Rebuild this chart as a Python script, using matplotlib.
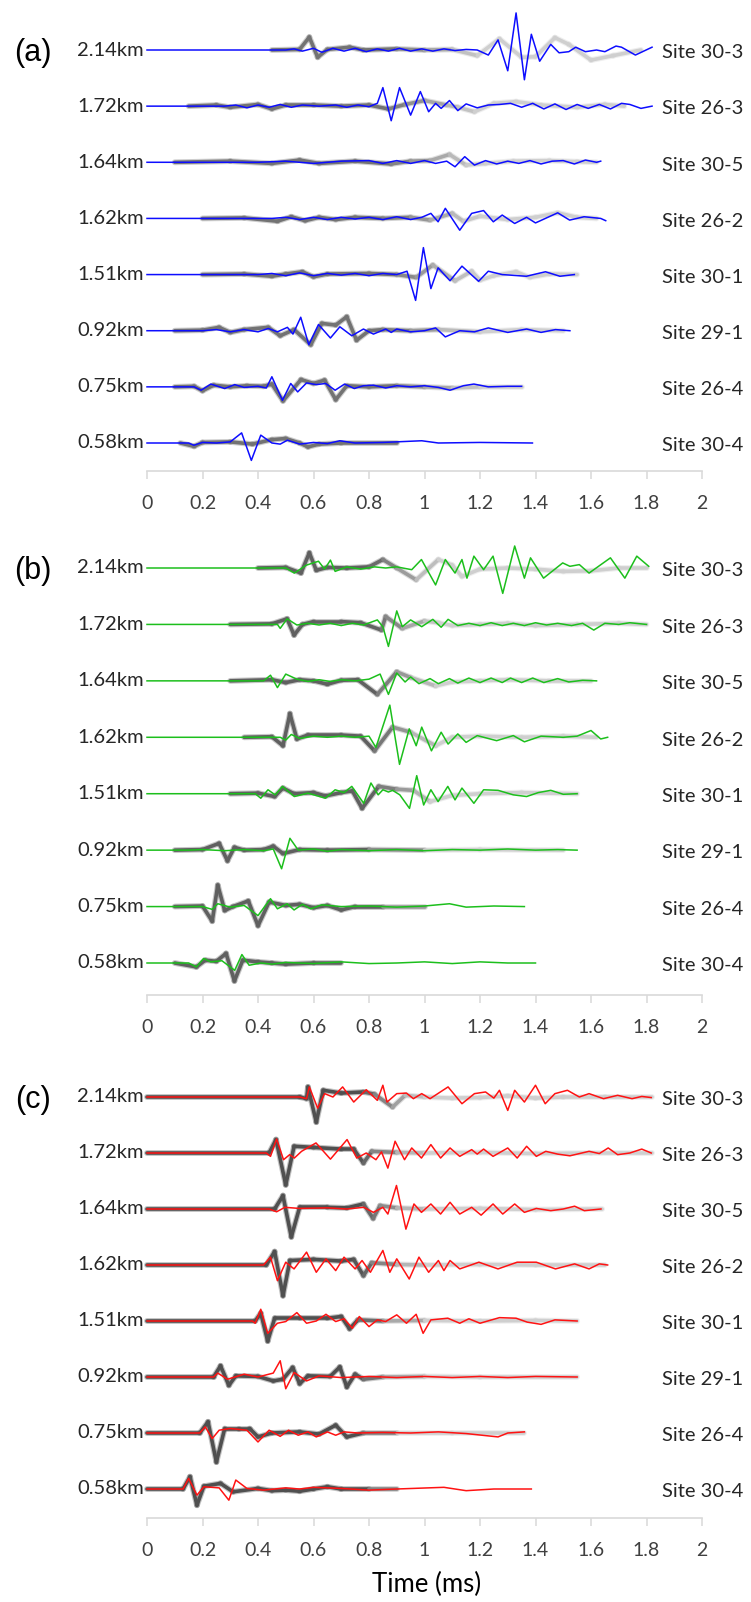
import matplotlib.pyplot as plt
import numpy as np
from matplotlib.collections import LineCollection
from matplotlib.colors import to_rgb

distances = ['2.14km', '1.72km', '1.64km', '1.62km', '1.51km', '0.92km', '0.75km', '0.58km']
sites = ['Site 30-3', 'Site 26-3', 'Site 30-5', 'Site 26-2', 'Site 30-1', 'Site 29-1', 'Site 26-4', 'Site 30-4']
xticks = [0, 0.2, 0.4, 0.6, 0.8, 1, 1.2, 1.4, 1.6, 1.8, 2]

# traces: (time ms, amplitude) pairs, one list per site, top row first
a_blue = [
    [(0,0),(0.50,0),(0.53,0.02),(0.56,-0.02),(0.60,0.03),(0.63,-0.04),(0.67,0.03),(0.71,-0.02),(0.75,0.03),(0.79,-0.03),(0.83,0.02),(0.87,-0.02),(0.91,0.03),(0.95,-0.02),(0.99,0.02),(1.03,-0.02),(1.07,0.02),(1.11,-0.01),(1.15,0.01),(1.19,0),(1.23,-0.09),(1.265,0.18),(1.30,-0.37),(1.33,0.66),(1.36,-0.53),(1.385,0.28),(1.415,-0.2),(1.455,0.1),(1.485,-0.05),(1.52,-0.03),(1.545,0.05),(1.58,-0.03),(1.62,0.0),(1.65,-0.03),(1.69,0.07),(1.71,0.05),(1.76,-0.09),(1.82,0.05)],
    [(0,0),(0.28,0),(0.32,0.02),(0.36,-0.03),(0.40,0.02),(0.44,-0.02),(0.48,0.03),(0.52,-0.02),(0.56,0.02),(0.62,0.0),(0.68,0.02),(0.72,-0.02),(0.76,0.02),(0.80,-0.01),(0.83,0.05),(0.85,0.33),(0.88,-0.26),(0.91,0.33),(0.95,-0.16),(0.985,0.26),(1.015,-0.1),(1.04,0.05),(1.06,-0.04),(1.09,0.1),(1.12,-0.08),(1.15,0.04),(1.19,-0.03),(1.23,0.02),(1.27,0.03),(1.31,0.05),(1.35,-0.02),(1.39,0.05),(1.43,-0.05),(1.47,0.04),(1.51,-0.06),(1.55,0.03),(1.59,-0.04),(1.63,0.03),(1.67,-0.05),(1.71,0.05),(1.74,0.03),(1.78,-0.04),(1.82,0.0)],
    [(0,0),(0.40,0),(0.5,0.02),(0.6,-0.02),(0.7,0.02),(0.8,0.03),(0.85,-0.02),(0.9,0.03),(0.95,-0.02),(1.0,0.03),(1.04,-0.02),(1.08,0.02),(1.11,-0.08),(1.145,0.10),(1.18,-0.05),(1.22,0.03),(1.26,-0.03),(1.3,0.02),(1.34,-0.02),(1.38,0.03),(1.42,-0.03),(1.46,0.02),(1.50,0.03),(1.54,-0.03),(1.58,0.04),(1.62,0.0),(1.635,0.02)],
    [(0,0),(0.45,0),(0.5,0.02),(0.55,-0.02),(0.6,0.02),(0.65,-0.02),(0.7,0.02),(0.75,-0.01),(0.8,0.02),(0.85,-0.02),(0.9,0.03),(0.95,-0.02),(0.99,0.02),(1.023,0.09),(1.049,-0.06),(1.075,0.18),(1.127,-0.21),(1.17,0.09),(1.213,0.14),(1.248,-0.06),(1.28,0.06),(1.325,-0.09),(1.368,0.02),(1.40,-0.08),(1.48,0.1),(1.523,-0.03),(1.575,0.03),(1.635,0.0),(1.653,-0.04)],
    [(0,0),(0.4,0),(0.45,0.02),(0.5,-0.02),(0.55,0.03),(0.6,-0.02),(0.65,0.02),(0.7,-0.01),(0.75,0.02),(0.8,-0.02),(0.85,0.02),(0.9,0.0),(0.937,0.06),(0.968,-0.46),(0.996,0.48),(1.023,-0.25),(1.049,0.12),(1.092,-0.11),(1.135,0.15),(1.195,-0.12),(1.23,0.06),(1.28,0.0),(1.367,-0.03),(1.436,0.05),(1.488,-0.03),(1.54,0.0)],
    [(0,0),(0.2,0),(0.25,0.02),(0.3,-0.02),(0.35,0.02),(0.4,-0.02),(0.437,0.04),(0.47,-0.02),(0.506,0.06),(0.526,-0.06),(0.554,0.24),(0.583,-0.25),(0.618,0.11),(0.661,-0.13),(0.695,0.07),(0.738,-0.09),(0.78,0.03),(0.816,-0.06),(0.86,0.03),(0.88,-0.03),(0.9,0.03),(0.95,-0.02),(1.0,0.0),(1.04,0.05),(1.075,-0.11),(1.127,0.0),(1.18,-0.02),(1.23,0.05),(1.3,-0.03),(1.368,0.03),(1.42,-0.03),(1.472,0.02),(1.524,0.0)],
    [(0,0),(0.17,0),(0.195,-0.06),(0.23,0.05),(0.28,-0.03),(0.316,0.04),(0.35,-0.01),(0.4,0.01),(0.43,-0.02),(0.45,0.18),(0.488,-0.24),(0.518,0.06),(0.543,-0.09),(0.575,0.07),(0.61,0.04),(0.644,0.06),(0.678,-0.06),(0.712,0.05),(0.747,-0.03),(0.78,0.02),(0.816,0.03),(0.86,-0.02),(0.9,0.02),(0.95,0.0),(1.0,0.02),(1.05,-0.01),(1.092,-0.06),(1.14,0.02),(1.178,0.05),(1.23,0.0),(1.3,0.01),(1.35,0.01)],
    [(0,0),(0.15,0),(0.169,-0.04),(0.2,0.01),(0.25,0.0),(0.3,0.02),(0.341,0.18),(0.376,-0.31),(0.41,0.14),(0.45,0.0),(0.48,-0.02),(0.506,0.05),(0.55,-0.02),(0.6,0.01),(0.65,-0.01),(0.695,0.04),(0.75,0.0),(0.85,0.01),(0.99,0.04),(1.05,0.0),(1.2,0.01),(1.389,0.0)],
]
a_gray = [
    [(0.45,0),(0.55,0.01),(0.585,0.23),(0.615,-0.13),(0.65,0.01),(0.73,0.05),(0.78,0),(0.9,0.02),(1.0,0),(1.1,0.01),(1.19,-0.1),(1.27,0.2),(1.35,-0.13),(1.40,-0.12),(1.47,0.22),(1.52,0.1),(1.60,-0.18),(1.68,-0.1),(1.78,0)],
    [(0.15,0),(0.25,0.02),(0.3,-0.02),(0.4,0.03),(0.45,-0.05),(0.5,0.02),(0.6,0.02),(0.7,0),(0.8,0.02),(0.87,-0.05),(0.93,0.03),(1.0,0.1),(1.08,0.02),(1.12,-0.02),(1.18,-0.1),(1.25,0.05),(1.33,0.08),(1.42,0.02),(1.55,-0.02),(1.65,0.03),(1.72,0)],
    [(0.1,0),(0.3,0.02),(0.45,-0.02),(0.55,0.04),(0.62,-0.02),(0.75,0.02),(0.88,-0.03),(0.95,0.02),(1.02,0.03),(1.09,0.14),(1.15,-0.05),(1.22,-0.02),(1.32,0.02),(1.45,0.03),(1.55,0.01),(1.62,0)],
    [(0.2,0),(0.35,0.01),(0.47,-0.05),(0.52,0.03),(0.57,-0.04),(0.62,0.02),(0.68,-0.02),(0.75,0.02),(0.85,0),(0.95,0.02),(1.02,-0.03),(1.1,0.09),(1.14,-0.05),(1.2,0.04),(1.3,-0.02),(1.4,0.02),(1.48,0.1),(1.55,0.02),(1.62,0)],
    [(0.2,0),(0.35,0.01),(0.45,-0.03),(0.5,0.01),(0.56,0.05),(0.6,-0.04),(0.65,0.01),(0.8,0.02),(0.9,0),(0.97,-0.05),(1.03,0.17),(1.11,-0.11),(1.17,0.06),(1.2,-0.1),(1.25,-0.02),(1.33,0.05),(1.38,-0.05),(1.45,0.01),(1.55,0)],
    [(0.1,0),(0.2,0.01),(0.26,0.06),(0.3,-0.03),(0.35,0.02),(0.437,0.06),(0.48,-0.09),(0.53,0.02),(0.59,-0.25),(0.63,0.13),(0.68,0.1),(0.72,0.25),(0.755,-0.17),(0.8,0.0),(0.85,0.02),(0.95,0.0),(1.05,0.02),(1.2,-0.02),(1.35,0.02),(1.5,0)],
    [(0.1,0),(0.17,0.01),(0.2,-0.07),(0.24,0.03),(0.3,0.0),(0.36,0.02),(0.42,0.01),(0.45,0.05),(0.49,-0.25),(0.555,0.13),(0.6,0.06),(0.64,0.12),(0.68,-0.23),(0.72,0.02),(0.8,0.0),(0.9,0.02),(1.0,0.0),(1.1,-0.02),(1.2,0.0),(1.35,0)],
    [(0.12,0),(0.17,-0.06),(0.2,0.01),(0.3,0.02),(0.38,-0.02),(0.45,0.06),(0.5,0.08),(0.55,0.0),(0.58,-0.07),(0.62,-0.02),(0.7,0.0),(0.9,0.0)],
]

b_green = [
    [(0,0),(0.5,0),(0.531,-0.09),(0.574,0.05),(0.618,0.12),(0.64,-0.02),(0.661,0.14),(0.678,-0.06),(0.72,0.02),(0.77,-0.02),(0.82,0.02),(0.86,0.0),(0.9,0.02),(0.954,-0.03),(0.989,0.15),(1.04,-0.3),(1.075,0.15),(1.11,-0.09),(1.135,0.15),(1.153,-0.18),(1.178,0.21),(1.213,-0.03),(1.247,0.21),(1.282,-0.45),(1.325,0.39),(1.36,-0.18),(1.382,0.18),(1.429,-0.18),(1.498,0.09),(1.524,0.03),(1.558,0.06),(1.593,-0.09),(1.67,0.18),(1.722,-0.18),(1.765,0.21),(1.808,0.03)],
    [(0,0),(0.47,0),(0.48,-0.07),(0.505,0.1),(0.54,-0.01),(0.58,0.02),(0.62,-0.01),(0.66,0.02),(0.7,-0.02),(0.74,0.02),(0.78,-0.01),(0.83,0.08),(0.85,-0.04),(0.87,-0.39),(0.9,0.24),(0.92,-0.04),(0.95,0.08),(0.99,-0.04),(1.03,0.09),(1.06,-0.05),(1.085,0.09),(1.12,-0.02),(1.16,0.02),(1.2,-0.02),(1.24,0.03),(1.28,-0.02),(1.32,0.02),(1.36,-0.02),(1.4,0.03),(1.44,-0.01),(1.48,0.02),(1.53,-0.02),(1.57,0.02),(1.61,-0.1),(1.65,0.02),(1.7,0.0),(1.74,0.03),(1.8,0.0)],
    [(0,0),(0.42,0),(0.445,0.1),(0.47,-0.12),(0.5,0.12),(0.54,0.03),(0.58,-0.01),(0.62,0.02),(0.66,-0.01),(0.7,0.02),(0.75,0.0),(0.8,0.03),(0.84,0.12),(0.87,-0.24),(0.9,0.14),(0.93,-0.02),(0.95,0.07),(0.98,-0.05),(1.02,0.04),(1.05,-0.05),(1.09,0.04),(1.12,-0.04),(1.16,0.05),(1.2,-0.03),(1.24,0.05),(1.28,-0.03),(1.31,0.05),(1.35,-0.03),(1.39,0.05),(1.43,-0.03),(1.48,0.04),(1.52,-0.02),(1.57,0.01),(1.62,0.0)],
    [(0,0),(0.48,0),(0.5,-0.05),(0.52,0.05),(0.55,-0.02),(0.6,0.02),(0.65,0.0),(0.7,0.02),(0.75,0.0),(0.8,0.02),(0.825,-0.18),(0.875,0.57),(0.91,-0.48),(0.945,0.15),(0.97,-0.15),(0.99,0.18),(1.025,-0.24),(1.06,0.09),(1.085,-0.12),(1.12,0.06),(1.15,-0.09),(1.19,0.03),(1.26,-0.06),(1.32,0.03),(1.36,-0.08),(1.42,0.02),(1.5,0.0),(1.55,0.02),(1.6,0.12),(1.635,-0.03),(1.66,0.0)],
    [(0,0),(0.39,0),(0.41,-0.08),(0.436,0.07),(0.462,-0.02),(0.488,0.13),(0.531,-0.05),(0.58,0.01),(0.643,-0.08),(0.678,0.07),(0.71,0.02),(0.738,0.13),(0.781,-0.17),(0.807,0.19),(0.833,-0.02),(0.85,0.07),(0.87,0.03),(0.885,0.06),(0.911,-0.02),(0.946,-0.26),(0.972,0.32),(0.997,-0.2),(1.023,0.07),(1.049,-0.14),(1.084,0.13),(1.11,-0.11),(1.135,0.1),(1.178,-0.17),(1.213,0.07),(1.265,0.06),(1.32,-0.02),(1.368,-0.05),(1.41,0.02),(1.455,0.06),(1.5,-0.01),(1.55,0.0)],
    [(0,0),(0.15,0),(0.2,0.01),(0.28,-0.01),(0.35,0.01),(0.42,-0.01),(0.455,0.02),(0.485,-0.33),(0.515,0.21),(0.545,0.0),(0.6,0.02),(0.65,-0.02),(0.7,0.01),(0.8,-0.01),(0.9,0.01),(1.0,-0.01),(1.1,0.01),(1.2,0.0),(1.3,0.02),(1.4,0.0),(1.48,0.01),(1.55,0.0)],
    [(0,0),(0.2,0),(0.235,-0.05),(0.255,0.05),(0.3,-0.01),(0.35,0.02),(0.4,-0.16),(0.445,0.14),(0.47,-0.04),(0.505,0.05),(0.53,-0.06),(0.56,0.04),(0.59,-0.04),(0.63,0.03),(0.7,0.0),(0.8,0.01),(0.9,-0.01),(1.0,0.01),(1.09,0.05),(1.15,-0.01),(1.25,0.01),(1.36,0.0)],
    [(0,0),(0.15,0),(0.178,-0.07),(0.204,0.08),(0.23,0.02),(0.27,0.04),(0.316,-0.13),(0.342,0.15),(0.368,-0.04),(0.41,0.0),(0.45,-0.02),(0.5,0.01),(0.6,-0.01),(0.7,0.02),(0.8,-0.01),(0.9,0.0),(1.0,0.02),(1.1,-0.01),(1.2,0.02),(1.3,0.0),(1.4,0.0)],
]
b_gray = [
    [(0.4,0),(0.5,0.01),(0.555,-0.09),(0.585,0.27),(0.61,-0.04),(0.65,0.01),(0.72,0.0),(0.8,0.02),(0.85,0.15),(0.9,0.0),(0.97,-0.21),(1.05,0.15),(1.1,0.05),(1.135,-0.15),(1.2,-0.02),(1.3,0.0),(1.4,-0.02),(1.5,-0.06),(1.6,-0.05),(1.7,0.0),(1.8,0.0)],
    [(0.3,0),(0.45,0.01),(0.505,0.1),(0.53,-0.19),(0.56,0.0),(0.6,0.05),(0.7,0.05),(0.77,0.03),(0.845,-0.1),(0.86,0.14),(0.92,-0.07),(1.0,0.06),(1.05,0.03),(1.1,-0.02),(1.2,0.0),(1.3,0.02),(1.4,-0.02),(1.55,0.0),(1.7,0.02),(1.8,0.0)],
    [(0.3,0),(0.45,0.02),(0.5,-0.03),(0.55,0.02),(0.6,0.0),(0.65,-0.06),(0.7,0.01),(0.76,0.02),(0.83,-0.24),(0.9,0.16),(0.95,0.06),(1.04,-0.09),(1.1,-0.02),(1.2,0.0),(1.3,0.02),(1.45,0.0),(1.6,0.0)],
    [(0.35,0),(0.45,0.01),(0.49,-0.15),(0.515,0.42),(0.54,-0.03),(0.58,0.04),(0.7,0.04),(0.77,0.02),(0.82,-0.24),(0.885,0.18),(0.95,0.09),(1.04,-0.15),(1.1,0.0),(1.2,0.02),(1.35,0.0),(1.5,0.02),(1.62,0.0)],
    [(0.3,0),(0.4,0.01),(0.46,-0.05),(0.49,0.1),(0.53,0.0),(0.6,0.02),(0.643,-0.04),(0.7,0.02),(0.74,0.05),(0.775,-0.26),(0.835,0.13),(0.9,0.08),(0.96,0.06),(1.02,-0.14),(1.1,-0.03),(1.2,0.0),(1.35,0.02),(1.55,0.0)],
    [(0.1,0),(0.2,0.01),(0.26,0.12),(0.29,-0.19),(0.315,0.05),(0.35,0.0),(0.42,0.01),(0.455,0.07),(0.49,-0.06),(0.55,0.01),(0.65,0.0),(0.8,0.01),(1.0,0.0),(1.2,0.01),(1.5,0.0)],
    [(0.1,0),(0.2,0.01),(0.235,-0.26),(0.255,0.38),(0.28,-0.07),(0.31,0.0),(0.365,0.1),(0.4,-0.34),(0.44,0.08),(0.5,0.02),(0.55,0.04),(0.6,-0.02),(0.65,0.02),(0.7,-0.06),(0.75,0.0),(0.85,0.0),(1.0,0.0)],
    [(0.1,0),(0.178,-0.07),(0.21,0.05),(0.25,0.03),(0.285,0.17),(0.315,-0.32),(0.345,0.05),(0.4,0.02),(0.45,0.0),(0.5,-0.02),(0.6,0.0),(0.7,0.0)],
]

c_red = [
    [(0,0),(0.55,0),(0.575,-0.03),(0.585,0.18),(0.615,-0.2),(0.64,0.06),(0.67,0.0),(0.705,0.18),(0.745,-0.09),(0.79,0.13),(0.83,-0.06),(0.85,0.21),(0.865,-0.09),(0.9,0.06),(0.935,0.07),(0.96,-0.03),(0.99,0.06),(1.02,-0.03),(1.085,0.18),(1.135,-0.12),(1.18,0.06),(1.22,0.09),(1.25,-0.02),(1.27,0.12),(1.3,-0.24),(1.325,0.12),(1.36,-0.09),(1.4,0.21),(1.435,-0.12),(1.47,0.06),(1.515,0.12),(1.558,0.0),(1.593,0.06),(1.645,-0.03),(1.696,0.03),(1.748,-0.03),(1.783,0.01),(1.817,-0.01)],
    [(0,0),(0.43,0),(0.445,-0.06),(0.467,0.25),(0.492,-0.12),(0.514,-0.03),(0.531,-0.09),(0.557,0.03),(0.609,0.18),(0.661,-0.11),(0.721,0.24),(0.756,-0.09),(0.79,0.0),(0.825,-0.12),(0.845,0.02),(0.868,-0.27),(0.894,0.21),(0.928,-0.12),(0.954,0.09),(0.989,-0.09),(1.023,0.15),(1.058,-0.09),(1.092,0.09),(1.127,-0.06),(1.17,0.06),(1.19,-0.02),(1.213,0.07),(1.247,-0.06),(1.3,0.09),(1.334,-0.09),(1.368,0.12),(1.403,-0.06),(1.437,0.03),(1.48,-0.02),(1.524,-0.05),(1.593,0.03),(1.63,-0.01),(1.662,0.09),(1.696,-0.03),(1.74,0.0),(1.783,0.07),(1.817,0.0)],
    [(0,0),(0.44,0),(0.467,-0.05),(0.497,0.03),(0.55,0.01),(0.65,0.02),(0.72,0.0),(0.781,0.03),(0.816,-0.06),(0.85,0.03),(0.868,-0.09),(0.899,0.42),(0.933,-0.36),(0.962,0.09),(0.989,-0.06),(1.023,0.09),(1.058,-0.09),(1.092,0.12),(1.127,-0.09),(1.17,0.03),(1.204,-0.11),(1.247,0.09),(1.282,-0.09),(1.325,0.09),(1.36,-0.06),(1.403,0.01),(1.455,-0.03),(1.5,0.0),(1.541,0.05),(1.576,-0.03),(1.636,0.0)],
    [(0,0),(0.42,0),(0.445,0.14),(0.47,-0.28),(0.5,0.05),(0.53,-0.07),(0.575,0.23),(0.61,-0.13),(0.645,0.11),(0.68,-0.1),(0.71,0.14),(0.75,-0.07),(0.775,0.08),(0.805,-0.13),(0.85,0.26),(0.875,-0.13),(0.9,0.11),(0.945,-0.25),(0.98,0.14),(1.015,-0.13),(1.05,0.08),(1.07,-0.1),(1.092,0.08),(1.127,-0.07),(1.196,0.05),(1.265,-0.07),(1.334,0.05),(1.403,0.05),(1.472,-0.07),(1.541,0.02),(1.593,-0.07),(1.63,0.02),(1.66,0.0)],
    [(0,0),(0.38,0),(0.39,-0.04),(0.41,0.21),(0.435,-0.22),(0.47,-0.04),(0.5,-0.01),(0.54,0.15),(0.575,-0.04),(0.61,0.0),(0.645,0.12),(0.68,-0.01),(0.71,0.04),(0.74,-0.13),(0.765,0.08),(0.8,-0.1),(0.83,0.02),(0.86,-0.01),(0.9,0.11),(0.935,-0.04),(0.97,0.12),(0.995,-0.22),(1.023,0.02),(1.084,0.05),(1.127,-0.04),(1.16,0.04),(1.2,-0.04),(1.27,0.06),(1.33,0.05),(1.37,-0.02),(1.42,-0.06),(1.47,0.02),(1.55,0.0)],
    [(0,0),(0.24,0),(0.255,0.07),(0.29,-0.04),(0.35,0.05),(0.4,0.0),(0.455,0.07),(0.48,0.29),(0.5,-0.21),(0.53,0.08),(0.575,-0.07),(0.62,0.02),(0.7,-0.01),(0.8,0.01),(0.9,-0.01),(1.0,0.01),(1.1,-0.01),(1.2,0.01),(1.3,-0.01),(1.4,0.01),(1.55,0.0)],
    [(0,0),(0.19,0),(0.21,0.11),(0.235,-0.1),(0.26,0.05),(0.3,0.08),(0.36,0.05),(0.4,-0.16),(0.44,0.05),(0.48,-0.06),(0.51,0.05),(0.545,-0.04),(0.58,0.02),(0.61,-0.07),(0.65,0.02),(0.68,-0.04),(0.71,0.02),(0.76,0.0),(0.85,0.01),(0.95,0.0),(1.05,0.02),(1.15,-0.01),(1.265,-0.07),(1.3,0.0),(1.36,0.02)],
    [(0,0),(0.13,0),(0.15,0.19),(0.18,-0.11),(0.205,0.04),(0.26,0.02),(0.295,-0.2),(0.32,0.16),(0.36,0.01),(0.42,-0.02),(0.5,0.02),(0.55,0.0),(0.6,0.03),(0.7,0.01),(0.8,-0.02),(0.9,0.0),(1.07,0.03),(1.15,-0.03),(1.25,0.0),(1.385,0.0)],
]
c_gray = [
    [(0,0),(0.55,0),(0.575,-0.03),(0.58,0.18),(0.61,-0.45),(0.635,0.12),(0.7,0.07),(0.78,0.09),(0.82,0.05),(0.885,-0.18),(0.93,0.03),(1.0,0.0),(1.1,-0.02),(1.2,-0.01),(1.3,0.02),(1.4,-0.02),(1.5,0.0),(1.65,0.0),(1.82,0.0)],
    [(0,0),(0.44,0),(0.465,0.24),(0.5,-0.57),(0.53,0.12),(0.6,0.1),(0.7,0.07),(0.745,0.07),(0.78,-0.18),(0.81,0.03),(0.9,0.01),(1.0,0.0),(1.2,0.01),(1.4,-0.01),(1.6,0.0),(1.82,0.0)],
    [(0,0),(0.46,0),(0.49,0.24),(0.52,-0.5),(0.55,0.03),(0.65,0.03),(0.72,0.02),(0.78,0.09),(0.815,-0.17),(0.84,0.06),(0.9,0.02),(1.0,0.0),(1.2,0.01),(1.4,-0.01),(1.64,0.0)],
    [(0,0),(0.43,0),(0.46,0.24),(0.49,-0.55),(0.515,0.08),(0.6,0.1),(0.7,0.07),(0.745,0.1),(0.78,-0.19),(0.81,0.04),(0.9,0.01),(1.0,0.0),(1.2,0.01),(1.4,0.0),(1.65,0.0)],
    [(0,0),(0.39,0),(0.41,0.14),(0.435,-0.36),(0.46,0.05),(0.55,0.05),(0.65,0.05),(0.7,0.08),(0.73,-0.14),(0.76,0.02),(0.85,0.0),(1.0,0.01),(1.2,0.0),(1.4,0.01),(1.55,0.0)],
    [(0,0),(0.24,0),(0.265,0.2),(0.295,-0.15),(0.32,0.02),(0.4,0.01),(0.455,-0.07),(0.49,-0.04),(0.525,0.17),(0.55,-0.12),(0.58,0.02),(0.66,0.01),(0.695,0.18),(0.72,-0.18),(0.75,0.05),(0.78,-0.04),(0.85,0.0),(1.0,0.01),(1.2,0.0),(1.55,0.0)],
    [(0,0),(0.19,0),(0.22,0.2),(0.25,-0.52),(0.28,0.08),(0.33,0.08),(0.37,0.08),(0.4,-0.07),(0.45,0.0),(0.55,0.02),(0.62,-0.02),(0.68,0.14),(0.72,-0.07),(0.78,0.0),(0.9,0.0),(1.1,0.0),(1.36,0.0)],
    [(0,0),(0.13,0),(0.155,0.22),(0.18,-0.29),(0.205,0.05),(0.265,0.1),(0.31,-0.05),(0.4,0.01),(0.45,-0.03),(0.5,-0.02),(0.55,-0.04),(0.6,0.0),(0.65,0.04),(0.7,0.0),(0.8,0.0),(0.9,0.0)],
]

W, H = 751, 1602
fig = plt.figure(figsize=(W / 100, H / 100), dpi=100)
fig.patch.set_facecolor('white')

X0, X1 = 147, 702          # pixel positions of 0 ms and 2 ms
LIGHT = np.array(to_rgb('#cfcfcf'))
LABEL_FONT = 'Lato'

panels = [
    dict(tag='(a)', top=50, bottom=443, axis=471, col=a_blue, gray=a_gray, color='#0d0dff',
         dark='#737373', fade=(0.85, 1.2)),
    dict(tag='(b)', top=568, bottom=963, axis=995, col=b_green, gray=b_gray, color='#1cbf1c',
         dark='#606060', fade=(0.8, 1.05)),
    dict(tag='(c)', top=1097, bottom=1489, axis=1518, col=c_red, gray=c_gray, color='#ff1212',
         dark='#505050', fade=(0.75, 1.0)),
]


def gray_trace(ax, pts, y0, dark, fade):
    t = np.array([p[0] for p in pts])
    a = np.array([p[1] for p in pts]) + y0
    segs = [[(t[i], a[i]), (t[i + 1], a[i + 1])] for i in range(len(t) - 1)]
    mid = 0.5 * (t[:-1] + t[1:])
    f = np.clip((mid - fade[0]) / (fade[1] - fade[0]), 0, 1)[:, None]
    cols = np.array(to_rgb(dark)) * (1 - f) + LIGHT * f
    # soft outer edge under the main gray stroke
    halo = LineCollection(segs, colors=np.hstack([cols, np.full((len(cols), 1), 0.35)]),
                          linewidths=4.2, capstyle='round', joinstyle='round',
                          zorder=1.5, clip_on=False)
    ax.add_collection(halo)
    lc = LineCollection(segs, colors=cols, linewidths=2.6, capstyle='round',
                        joinstyle='round', zorder=2, clip_on=False)
    ax.add_collection(lc)


for p in panels:
    sp = (p['bottom'] - p['top']) / 7
    ax_top = p['top'] - 0.8 * sp
    ax = fig.add_axes([X0 / W, 1 - p['axis'] / H, (X1 - X0) / W, (p['axis'] - ax_top) / H])
    ax.set_xlim(0, 2)
    ax.set_ylim(-(p['axis'] - p['bottom']) / sp, 7.8)
    ax.set_facecolor('none')
    for s in ['top', 'left', 'right']:
        ax.spines[s].set_visible(False)
    ax.spines['bottom'].set_color('#d9d9d9')
    ax.spines['bottom'].set_linewidth(1.2)
    ax.set_yticks([])
    ax.set_xticks(xticks)
    ax.set_xticklabels([f'{v:g}' for v in xticks], fontsize=14, family=LABEL_FONT, color='#404040')
    ax.tick_params(axis='x', direction='out', length=6, width=1.1, color='#d9d9d9', pad=11)

    for k in range(8):
        y0 = 7 - k
        gray_trace(ax, p['gray'][k], y0, p['dark'], p['fade'])
        pts = p['col'][k]
        ax.plot([q[0] for q in pts], [q[1] + y0 for q in pts], color=p['color'],
                lw=1.1, zorder=3, clip_on=False, solid_joinstyle='round')
        ax.text(-0.012, y0, distances[k], ha='right', va='center', fontsize=14.5,
                family=LABEL_FONT, color='#262626', clip_on=False)
        ax.text(1.855, y0 - 0.05, sites[k], ha='left', va='center', fontsize=14.5,
                family=LABEL_FONT, color='#262626', clip_on=False)

    ax.text(-0.41, 7 - 0.05, p['tag'], ha='center', va='center', fontsize=22,
            family='Liberation Sans', color='black', clip_on=False)

fig.text(427 / W, 1 - 1584 / H, 'Time (ms)', ha='center', va='center', fontsize=18.5,
         family=LABEL_FONT, color='black')

fig.savefig('out.png', dpi=100, facecolor='white')
